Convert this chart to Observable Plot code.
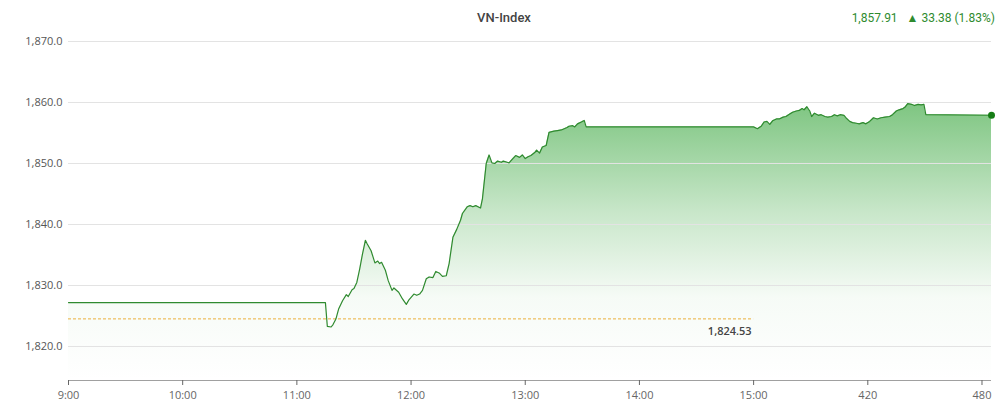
<!DOCTYPE html>
<html>
<head>
<meta charset="utf-8">
<script src="https://cdn.jsdelivr.net/npm/d3@7"></script>
<script src="https://cdn.jsdelivr.net/npm/@observablehq/plot@0.6"></script>
<style>
  html, body { margin: 0; padding: 0; background: #fff; }
  #wrap { position: relative; width: 1008px; height: 413px; }
  #title { position: absolute; left: 0; width: 1008px; top: 10px; text-align: center;
           font-family: Roboto, sans-serif; font-size: 13px; font-weight: 500; color: #444; }
  #quote { position: absolute; right: 13px; top: 11px; font-family: Roboto, sans-serif;
           font-size: 12px; color: #2e8b2e; white-space: pre; }
</style>
</head>
<body>
<div id="wrap">
  <div id="title"></div>
  <div id="quote"></div>
</div>
<script>
const titleText = "VN-Index";
const quoteText = "1,857.91   \u25B2 33.38 (1.83%)";
const refValue = 1824.53;
const refLabel = "1,824.53";
const lastValue = 1857.91;

const xTicks = [0, 60, 120, 180, 240, 300, 360, 420, 480];
const xTickLabels = ["9:00", "10:00", "11:00", "12:00", "13:00", "14:00", "15:00", "420", "480"];
const yTicks = [1820, 1830, 1840, 1850, 1860, 1870];

const minutes = [0,135,136,138,139,140.5,142,144,146,147,149,150,151.5,153,154.5,156,157,159,161,162.5,163.5,164.5,166.5,168,170,171,173.5,175.5,177.5,179,181.5,183,184.5,186,188,189.5,191.5,193,195,196.5,198.5,200,202,204,206,207,209.5,211,212.5,214,216.5,217.5,219.5,221,222.5,224,225.5,227.5,228.5,230.5,231.5,233.5,235,237,238.5,240,241.5,243,245,246,247.5,249,251,252.5,255,257,259,260.5,262,263,265,266,267.5,269.5,271,272,360,362,364,365.5,367,368.5,370,372,373.5,375.5,377,379,380.5,382.5,384,385.5,386.5,388,389.5,390.5,392,394,395.5,397.5,399,401,402.5,404,405.5,407.5,408.5,410.5,412,414,415.5,417.5,419,421,423,425,427,429,431.5,433,435,436.5,438.5,439.5,441,443,444.5,446.5,448,449.5,450.5,485];
const values = [1827.2,1827.2,1823.3,1823.2,1823.6,1824.5,1826.2,1827.5,1828.5,1828.2,1829.3,1829.5,1830.5,1832.7,1835.2,1837.4,1836.8,1835.7,1833.7,1834.0,1833.6,1833.8,1832.5,1830.8,1829.2,1829.6,1828.9,1827.8,1826.9,1827.7,1828.6,1828.4,1828.6,1829.2,1831.1,1831.4,1831.3,1832.3,1832.0,1831.5,1831.6,1833.6,1837.9,1839.2,1840.7,1841.8,1842.9,1843.1,1842.9,1843.1,1842.7,1844.2,1850.0,1851.4,1850.1,1850.0,1850.4,1850.2,1850.4,1850.2,1850.1,1850.8,1851.3,1851.0,1851.4,1850.8,1851.1,1851.3,1851.8,1852.2,1851.7,1852.7,1852.95,1855.1,1855.3,1855.4,1855.5,1855.7,1855.9,1856.1,1856.2,1856.0,1856.5,1856.8,1857.05,1856.0,1856.0,1855.7,1856.1,1856.8,1856.9,1856.4,1857.0,1857.3,1857.3,1857.6,1857.7,1858.1,1858.4,1858.6,1858.7,1859.0,1858.8,1859.3,1858.6,1857.7,1858.25,1857.9,1858.0,1857.7,1857.6,1857.7,1858.0,1857.8,1858.0,1857.9,1857.5,1856.9,1856.7,1856.6,1856.5,1856.7,1856.5,1856.9,1857.5,1857.3,1857.5,1857.6,1857.7,1858.0,1858.6,1858.8,1859.0,1859.2,1859.8,1859.7,1859.5,1859.7,1859.6,1859.7,1858.0,1857.91];

const data = minutes.map((t, i) => ({t, v: values[i]}));
const yMin = 1814.43, yMax = 1871.8;
const refStart = 0, refEnd = 360;

document.getElementById("title").textContent = titleText;
document.getElementById("quote").textContent = quoteText;

const defs = () => {
  const d = d3.create("svg:defs");
  const g = d.append("linearGradient").attr("id", "areaGrad")
    .attr("x1", 0).attr("y1", 0).attr("x2", 0).attr("y2", 1);
  g.append("stop").attr("offset", "0%").attr("stop-color", "#4caf50").attr("stop-opacity", 0.72);
  g.append("stop").attr("offset", "40%").attr("stop-color", "#4caf50").attr("stop-opacity", 0.3);
  g.append("stop").attr("offset", "70%").attr("stop-color", "#4caf50").attr("stop-opacity", 0.05);
  g.append("stop").attr("offset", "100%").attr("stop-color", "#4caf50").attr("stop-opacity", 0);
  return d.node();
};

const chart = Plot.plot({
  width: 1008,
  height: 413,
  marginTop: 30,
  marginBottom: 33,
  marginLeft: 68,
  marginRight: 17,
  style: {fontFamily: "'Open Sans', sans-serif", fontSize: "11px", background: "transparent"},
  x: {domain: [0, 485]},
  y: {domain: [yMin, yMax]},
  marks: [
    defs,
    Plot.areaY(data, {x: "t", y1: yMin, y2: "v", fill: "url(#areaGrad)"}),
    Plot.ruleY(yTicks, {stroke: "#e3e3e3", strokeWidth: 1}),
    Plot.ruleY([yMin], {stroke: "#a0a0a0", strokeWidth: 1}),
    Plot.axisY(yTicks, {tickSize: 0, tickPadding: 6, tickFormat: d3.format(",.1f"), color: "#555", fontSize: 11, label: null}),
    Plot.axisX(xTicks, {tickSize: 5, tickPadding: 6, tickFormat: d => xTickLabels[xTicks.indexOf(d)], color: "#666", fontSize: 11, label: null}),
    Plot.ruleY([refValue], {x1: refStart, x2: refEnd, stroke: "#eab03c", strokeDasharray: "3,2", strokeWidth: 1}),
    Plot.text([refValue], {x: refEnd, y: d => d, text: [refLabel], textAnchor: "end", dx: -2, dy: 13, fill: "#444", fontWeight: 600, fontSize: 11}),
    Plot.line(data, {x: "t", y: "v", stroke: "#2f8a2f", strokeWidth: 1.2}),
    Plot.dot([{t: 485, v: lastValue}], {x: "t", y: "v", r: 3.5, fill: "#167d16", stroke: "none"})
  ]
});
document.getElementById("wrap").appendChild(chart);
chart.style.position = "absolute";
chart.style.left = "0";
chart.style.top = "0";
</script>
</body>
</html>
